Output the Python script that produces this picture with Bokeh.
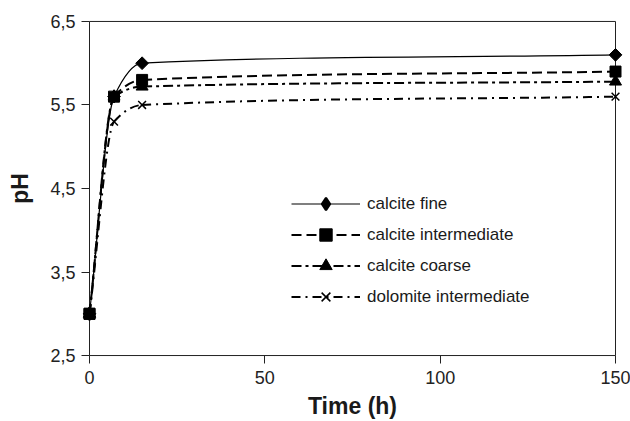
import math
from bokeh.plotting import figure
from bokeh.models import (FixedTicker, Legend, LegendItem, ColumnDataSource, Range1d)
from bokeh.embed import file_html
from bokeh.resources import INLINE

# ---- data ----
time_h = [0, 7, 15, 150]
calcite_fine = [3.0, 5.6, 6.0, 6.1]
calcite_intermediate = [3.0, 5.6, 5.8, 5.9]
calcite_coarse = [3.0, 5.6, 5.72, 5.78]
dolomite_intermediate = [3.0, 5.3, 5.5, 5.6]

series_names = ["calcite fine", "calcite intermediate", "calcite coarse", "dolomite intermediate"]
series_values = [calcite_fine, calcite_intermediate, calcite_coarse, dolomite_intermediate]
y_ticks = [2.5, 3.5, 4.5, 5.5, 6.5]
y_tick_labels = ["2,5", "3,5", "4,5", "5,5", "6,5"]
x_ticks = [0, 50, 100, 150]

markers = ["square", "square", "triangle", "x"]
marker_angles = [math.pi / 4, 0, 0, 0]
marker_sizes = [9, 11, 12, 11]
legend_markers = ["diamond", "square", "triangle", "x"]
legend_sizes = [12, 11, 12, 11]
legend_lw = [2.2, 1, 1, 1.5]
dashes = ["solid", "10 5", "10 4 3 4", "9 5 2 5"]
widths = [1.2, 2, 2, 2]

FONT = "Liberation Sans"

# ranges padded by 8 px on every side so that edge markers are not clipped;
# the visible box is drawn at the tick extremes
PAD = 8
X_PX = 526.0
Y_PX = 336.0
xpad = PAD * (x_ticks[-1] - x_ticks[0]) / X_PX
ypad = PAD * (y_ticks[-1] - y_ticks[0]) / Y_PX

p = figure(width=630, height=421, output_backend="svg", toolbar_location=None,
           x_range=Range1d(x_ticks[0] - xpad, x_ticks[-1] + xpad),
           y_range=Range1d(y_ticks[0] - ypad, y_ticks[-1] + ypad),
           min_border_left=89 - PAD, min_border_right=15 - PAD,
           min_border_top=21 - PAD, min_border_bottom=64 - PAD)
p.xgrid.visible = False
p.ygrid.visible = False
p.outline_line_color = None
p.background_fill_color = "white"
p.border_fill_color = "white"

for ax in (p.xaxis, p.yaxis):
    ax.axis_line_color = None
    ax.major_tick_line_color = "#222222"
    ax.major_tick_out = 0
    ax.major_tick_in = PAD
    ax.minor_tick_line_color = None
    ax.major_label_text_font = FONT
    ax.major_label_text_font_size = "18px"
    ax.major_label_text_color = "#222222"
    ax.axis_label_text_font = FONT
    ax.axis_label_text_font_size = "23px"
    ax.axis_label_text_font_style = "bold"
    ax.axis_label_text_color = "#1a1a1a"

p.xaxis.ticker = FixedTicker(ticks=x_ticks)
p.yaxis.ticker = FixedTicker(ticks=y_ticks)
p.yaxis.major_label_overrides = {t: l for t, l in zip(y_ticks, y_tick_labels)}
p.xaxis.axis_label = "Time (h)"
p.yaxis.axis_label = "pH"
p.xaxis.major_label_standoff = 7
p.yaxis.major_label_standoff = 6
p.xaxis.axis_label_standoff = 6
p.yaxis.axis_label_standoff = 14

# plot box (axes frame) at the tick extremes
p.quad(left=[x_ticks[0]], right=[x_ticks[-1]], bottom=[y_ticks[0]], top=[y_ticks[-1]],
       fill_color=None, line_color="#222222", line_width=1)


def smooth_segments(xs, ys):
    # monotone cubic (Fritsch-Carlson) smoothing expressed as cubic Bezier segments
    n = len(xs)
    h = [xs[i + 1] - xs[i] for i in range(n - 1)]
    d = [(ys[i + 1] - ys[i]) / h[i] for i in range(n - 1)]
    m = [0.0] * n
    m[0] = d[0]
    m[-1] = d[-1]
    for i in range(1, n - 1):
        if d[i - 1] * d[i] <= 0:
            m[i] = 0.0
        else:
            w1 = 2 * h[i] + h[i - 1]
            w2 = h[i] + 2 * h[i - 1]
            m[i] = (w1 + w2) / (w1 / d[i - 1] + w2 / d[i])
    seg = dict(x0=[], y0=[], x1=[], y1=[], cx0=[], cy0=[], cx1=[], cy1=[])
    for i in range(n - 1):
        seg["x0"].append(xs[i]); seg["y0"].append(ys[i])
        seg["x1"].append(xs[i + 1]); seg["y1"].append(ys[i + 1])
        seg["cx0"].append(xs[i] + h[i] / 3)
        seg["cy0"].append(ys[i] + m[i] * h[i] / 3)
        seg["cx1"].append(xs[i + 1] - h[i] / 3)
        seg["cy1"].append(ys[i + 1] - m[i + 1] * h[i] / 3)
    return seg

items = []
for i, (name, vals) in enumerate(zip(series_names, series_values)):
    dash, lw = dashes[i], widths[i]
    seg = smooth_segments(time_h, vals)
    p.bezier(x0="x0", y0="y0", x1="x1", y1="y1", cx0="cx0", cy0="cy0", cx1="cx1", cy1="cy1",
             source=ColumnDataSource(seg), line_color="black", line_width=lw, line_dash=dash)
    p.scatter(x=time_h, y=vals, marker=markers[i], angle=marker_angles[i], size=marker_sizes[i],
              fill_color="black", line_color="black",
              line_width=1.5 if markers[i] == "x" else 1)
    # single-point renderers: draw nothing visible in the plot, used only as legend swatches
    lr = p.line(x=[time_h[0]], y=[vals[0]], line_color="black", line_width=lw, line_dash=dash)
    lm = p.scatter(x=[time_h[0]], y=[vals[0]], marker=legend_markers[i], size=legend_sizes[i],
                   fill_color="black", line_color="black", line_width=legend_lw[i], alpha=0)
    lm.glyph.fill_alpha = 1
    lm.glyph.line_alpha = 1
    lm.visible = True
    items.append(LegendItem(label=name, renderers=[lr, lm]))

legend = Legend(items=items, location=(291 - (89 - PAD), (357 + PAD) - 314), orientation="vertical",
                glyph_width=69, glyph_height=31, label_height=31, spacing=0,
                padding=0, margin=0, label_standoff=7,
                label_text_font=FONT, label_text_font_size="17px",
                label_text_color="#1a1a1a",
                border_line_color=None, background_fill_alpha=0)
p.add_layout(legend, "center")

open("out.html", "w").write(file_html(p, INLINE))
